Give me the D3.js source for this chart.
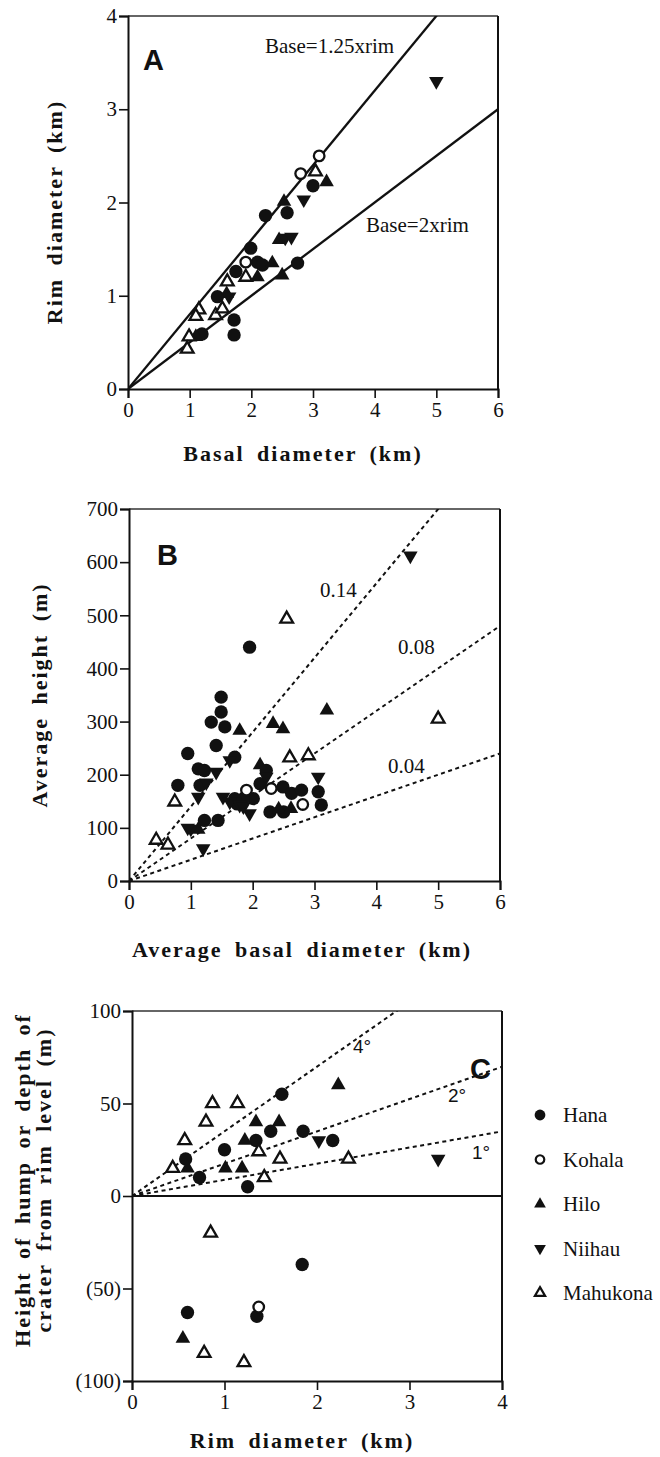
<!DOCTYPE html>
<html>
<head>
<meta charset="utf-8">
<script src="https://cdn.jsdelivr.net/npm/d3@7"></script>
<style>
  html, body { margin: 0; padding: 0; background: #fff; }
  svg { display: block; }
  .tick text { font-family: 'Liberation Serif', 'Times New Roman', serif; font-size: 21px; fill: #111; }
  .tick line { stroke: #111; stroke-width: 1.6; }
  .domain { stroke: #111; stroke-width: 2; }
  .title { font-family: 'Liberation Serif', 'Times New Roman', serif; font-weight: bold; font-size: 22px; letter-spacing: 2px; word-spacing: 5px; fill: #111; }
  .note { font-family: 'Liberation Serif', 'Times New Roman', serif; font-size: 21px; fill: #111; }
  .deg { font-family: 'Liberation Sans', Arial, sans-serif; font-size: 19px; fill: #111; }
  .letter { font-family: 'Liberation Sans', Arial, sans-serif; font-weight: bold; font-size: 29px; fill: #111; }
</style>
</head>
<body>
<svg id="fig" width="660" height="1457"></svg>
<script>
// groups (legend order)
const groups = ['Hana', 'Kohala', 'Hilo', 'Niihau', 'Mahukona'];

// --- panel A: basal diameter (km) vs rim diameter (km)
const aHana = [[3.0, 2.18], [2.58, 1.89], [2.23, 1.86], [1.99, 1.51], [2.10, 1.36], [2.18, 1.33], [2.75, 1.35],
  [1.75, 1.26], [1.45, 0.99], [1.72, 0.74], [1.72, 0.58], [1.20, 0.59]];
const aKohala = [[3.10, 2.50], [2.80, 2.31], [1.91, 1.36]];
const aHilo = [[3.22, 2.22], [2.53, 2.01], [2.45, 1.60], [2.34, 1.35], [2.10, 1.20], [2.50, 1.22], [1.60, 1.02], [1.10, 0.56]];
const aNiihau = [[5.0, 3.3], [2.85, 2.03], [2.55, 1.62], [2.65, 1.63], [1.64, 0.99]];
const aMahukona = [[3.04, 2.33], [1.91, 1.20], [1.61, 1.15], [1.15, 0.85], [1.10, 0.78], [1.42, 0.79], [1.53, 0.86],
  [0.99, 0.56], [0.96, 0.43]];
const aLines = [{slope: 0.8, label: 'Base=1.25xrim'}, {slope: 0.5, label: 'Base=2xrim'}];

// --- panel B: average basal diameter (km) vs average height (m)
const bHana = [[1.95, 440], [1.49, 346], [1.49, 318], [1.33, 299], [1.55, 290], [1.41, 255], [0.95, 240], [1.71, 233],
  [1.12, 211], [1.22, 208], [2.22, 208], [1.15, 180], [0.79, 180], [2.12, 183], [2.49, 177], [2.63, 165], [2.79, 171],
  [3.06, 168], [2.01, 155], [1.85, 155], [1.71, 155], [1.75, 145], [3.11, 143], [2.28, 130], [2.50, 130],
  [1.22, 114], [1.44, 114]];
const bKohala = [[1.90, 171], [2.30, 174], [2.81, 144]];
const bHilo = [[1.79, 283], [2.33, 296], [2.49, 286], [3.20, 321], [2.12, 218], [2.42, 135], [2.62, 136], [1.12, 97]];
const bNiihau = [[4.55, 612], [1.63, 227], [1.41, 205], [3.06, 196], [2.22, 196], [1.25, 185], [1.52, 158], [1.63, 149],
  [1.12, 158], [1.79, 143], [1.95, 127], [1.85, 140], [1.0, 98], [0.95, 100], [1.20, 61]];
const bMahukona = [[2.55, 493], [5.0, 305], [2.60, 232], [2.90, 236], [0.74, 149], [0.44, 77], [0.63, 68]];
const bLines = [{slope: 140, label: '0.14'}, {slope: 80, label: '0.08'}, {slope: 40, label: '0.04'}];

// --- panel C: rim diameter (km) vs height of hump / depth of crater (m)
const cHana = [[1.62, 55], [1.50, 35], [1.85, 35], [1.34, 30], [1.0, 25], [2.17, 30], [0.58, 20], [0.73, 10], [1.25, 5],
  [1.84, -37], [1.35, -65], [0.60, -63]];
const cKohala = [[1.37, -60]];
const cHilo = [[2.23, 60], [1.34, 40], [1.59, 40], [1.22, 30], [0.60, 15], [1.01, 15], [1.19, 15], [0.55, -77]];
const cNiihau = [[2.02, 30], [3.31, 20]];
const cMahukona = [[0.87, 50], [1.14, 50], [0.80, 40], [0.57, 30], [1.37, 24], [1.60, 20], [2.34, 20], [0.44, 15],
  [1.43, 10], [0.85, -20], [0.78, -85], [1.21, -90]];
const cLines = [{deg: 4, label: '4°'}, {deg: 2, label: '2°'}, {deg: 1, label: '1°'}];
const cYTicks = [-100, -50, 0, 50, 100];
const cYLabels = ['(100)', '(50)', '0', '50', '100'];

const SERIF = "'Liberation Serif', 'Times New Roman', serif";
const svg = d3.select('#fig');

const marks = {
    Hana:     {type: d3.symbolCircle, size: 140, fill: '#111', stroke: 'none', rot: 0},
    Kohala:   {type: d3.symbolCircle, size: 88, fill: '#fff', stroke: '#111', rot: 0},
    Hilo:     {type: d3.symbolTriangle, size: 92, fill: '#111', stroke: 'none', rot: 0},
    Niihau:   {type: d3.symbolTriangle, size: 92, fill: '#111', stroke: 'none', rot: 180},
    Mahukona: {type: d3.symbolTriangle, size: 70, fill: '#fff', stroke: '#111', rot: 0}
};

function drawMarks(g, x, y, name, pts) {
    const m = marks[name];
    g.selectAll(null)
        .data(pts)
        .enter()
        .append('path')
        .attr('d', d3.symbol().type(m.type).size(m.size))
        .attr('transform', d => `translate(${x(d[0])},${y(d[1])}) rotate(${m.rot})`)
        .attr('fill', m.fill)
        .attr('stroke', m.stroke)
        .attr('stroke-width', 2.3);
}

function panel(cfg) {
    const x = d3.scaleLinear().domain(cfg.xDomain).range([cfg.left, cfg.right]);
    const y = d3.scaleLinear().domain(cfg.yDomain).range([cfg.bottom, cfg.top]);
    const g = svg.append('g');

    // frame (top thin, right solid)
    g.append('line').attr('x1', cfg.left).attr('x2', cfg.right).attr('y1', cfg.top).attr('y2', cfg.top)
        .attr('stroke', '#333').attr('stroke-width', 1.3);
    g.append('line').attr('x1', cfg.right).attr('x2', cfg.right).attr('y1', cfg.top).attr('y2', cfg.bottom)
        .attr('stroke', '#111').attr('stroke-width', 2);

    const ax = g.append('g')
        .attr('transform', `translate(0,${cfg.bottom})`)
        .call(d3.axisBottom(x).tickValues(cfg.xTicks).tickFormat(d3.format('d')).tickSizeOuter(0).tickSize(9).tickPadding(4));

    const ay = g.append('g')
        .attr('transform', `translate(${cfg.left},0)`)
        .call(d3.axisLeft(y).tickValues(cfg.yTicks).tickFormat(cfg.yFormat || d3.format('d')).tickSizeOuter(0).tickSize(9).tickPadding(2));

    [ax, ay].forEach(a => a.attr('font-family', SERIF).attr('font-size', 21)
        .selectAll('text').attr('font-family', SERIF));

    return {g, x, y};
}

// ---------------- A
(function () {
    const p = panel({left: 128, right: 498, top: 16, bottom: 389, xDomain: [0, 6], yDomain: [0, 4],
        xTicks: d3.range(0, 7), yTicks: d3.range(0, 5)});
    p.g.append('clipPath').attr('id', 'clipA').append('rect')
        .attr('x', 128).attr('y', 16).attr('width', 370).attr('height', 373);
    aLines.forEach(l => {
        p.g.append('line').attr('clip-path', 'url(#clipA)')
            .attr('x1', p.x(0)).attr('y1', p.y(0)).attr('x2', p.x(6)).attr('y2', p.y(6 * l.slope))
            .attr('stroke', '#111').attr('stroke-width', 2.3);
    });
    p.g.append('text').attr('class', 'note').attr('x', 265).attr('y', 53).text(aLines[0].label);
    p.g.append('text').attr('class', 'note').attr('x', 366).attr('y', 232).text(aLines[1].label);

    [aHana, aKohala, aHilo, aNiihau, aMahukona].forEach((pts, i) => drawMarks(p.g, p.x, p.y, groups[i], pts));

    p.g.append('text').attr('class', 'letter').attr('x', 143).attr('y', 70).text('A');
    p.g.append('text').attr('class', 'title').attr('text-anchor', 'middle').attr('x', 303).attr('y', 461)
        .text('Basal diameter (km)');
    p.g.append('text').attr('class', 'title').attr('text-anchor', 'middle')
        .attr('transform', 'translate(62,212) rotate(-90)').text('Rim diameter (km)');
})();

// ---------------- B
(function () {
    const p = panel({left: 129, right: 500, top: 509, bottom: 881, xDomain: [0, 6], yDomain: [0, 700],
        xTicks: d3.range(0, 7), yTicks: d3.range(0, 701, 100)});
    p.g.append('clipPath').attr('id', 'clipB').append('rect')
        .attr('x', 129).attr('y', 509).attr('width', 371).attr('height', 372);
    bLines.forEach(l => {
        p.g.append('line').attr('clip-path', 'url(#clipB)')
            .attr('x1', p.x(0)).attr('y1', p.y(0)).attr('x2', p.x(6)).attr('y2', p.y(6 * l.slope))
            .attr('stroke', '#111').attr('stroke-width', 2).attr('stroke-dasharray', '4,3.5');
    });
    p.g.append('text').attr('class', 'note').attr('x', 320).attr('y', 597).text(bLines[0].label);
    p.g.append('text').attr('class', 'note').attr('x', 398).attr('y', 654).text(bLines[1].label);
    p.g.append('text').attr('class', 'note').attr('x', 388).attr('y', 773).text(bLines[2].label);

    [bHana, bKohala, bHilo, bNiihau, bMahukona].forEach((pts, i) => drawMarks(p.g, p.x, p.y, groups[i], pts));

    p.g.append('text').attr('class', 'letter').attr('x', 157).attr('y', 565).text('B');
    p.g.append('text').attr('class', 'title').attr('text-anchor', 'middle').attr('x', 302).attr('y', 957)
        .text('Average basal diameter (km)');
    p.g.append('text').attr('class', 'title').attr('text-anchor', 'middle')
        .attr('transform', 'translate(47,695) rotate(-90)').text('Average height (m)');
})();

// ---------------- C
(function () {
    const p = panel({left: 132, right: 502, top: 1011, bottom: 1381, xDomain: [0, 4], yDomain: [-100, 100],
        xTicks: d3.range(0, 5), yTicks: cYTicks, yFormat: d => cYLabels[cYTicks.indexOf(d)]});
    p.g.append('line').attr('x1', p.x(0)).attr('x2', p.x(4)).attr('y1', p.y(0)).attr('y2', p.y(0))
        .attr('stroke', '#111').attr('stroke-width', 2);
    p.g.append('clipPath').attr('id', 'clipC').append('rect')
        .attr('x', 132).attr('y', 1011).attr('width', 370).attr('height', 185);
    cLines.forEach(l => {
        const k = Math.tan(l.deg * Math.PI / 180) * 1000 / 2;
        p.g.append('line').attr('clip-path', 'url(#clipC)')
            .attr('x1', p.x(0)).attr('y1', p.y(0)).attr('x2', p.x(4)).attr('y2', p.y(4 * k))
            .attr('stroke', '#111').attr('stroke-width', 2).attr('stroke-dasharray', '4,3.5');
    });
    p.g.append('text').attr('class', 'deg').attr('x', 353).attr('y', 1053).text(cLines[0].label);
    p.g.append('text').attr('class', 'deg').attr('x', 448).attr('y', 1102).text(cLines[1].label);
    p.g.append('text').attr('class', 'deg').attr('x', 472).attr('y', 1159).text(cLines[2].label);

    [cHana, cKohala, cHilo, cNiihau, cMahukona].forEach((pts, i) => drawMarks(p.g, p.x, p.y, groups[i], pts));

    p.g.append('text').attr('class', 'letter').attr('x', 470).attr('y', 1079).text('C');
    p.g.append('text').attr('class', 'title').attr('text-anchor', 'middle').attr('x', 302).attr('y', 1448)
        .text('Rim diameter (km)');
    p.g.append('text').attr('class', 'title').attr('text-anchor', 'middle')
        .attr('transform', 'translate(30,1180) rotate(-90)').text('Height of hump or depth of');
    p.g.append('text').attr('class', 'title').attr('text-anchor', 'middle')
        .attr('transform', 'translate(51,1180) rotate(-90)').text('crater from rim level (m)');

    // legend
    const lg = svg.append('g');
    const rowY = d3.scalePoint().domain(groups).range([1115, 1293]);
    groups.forEach(name => {
        const m = marks[name];
        lg.append('path')
            .attr('d', d3.symbol().type(m.type).size(m.size * 0.65))
            .attr('transform', `translate(540,${rowY(name)}) rotate(${m.rot})`)
            .attr('fill', m.fill).attr('stroke', m.stroke).attr('stroke-width', 2.2);
        lg.append('text').attr('class', 'note').attr('font-size', 22).attr('x', 563).attr('y', rowY(name) + 7).text(name);
    });
})();
</script>
</body>
</html>
